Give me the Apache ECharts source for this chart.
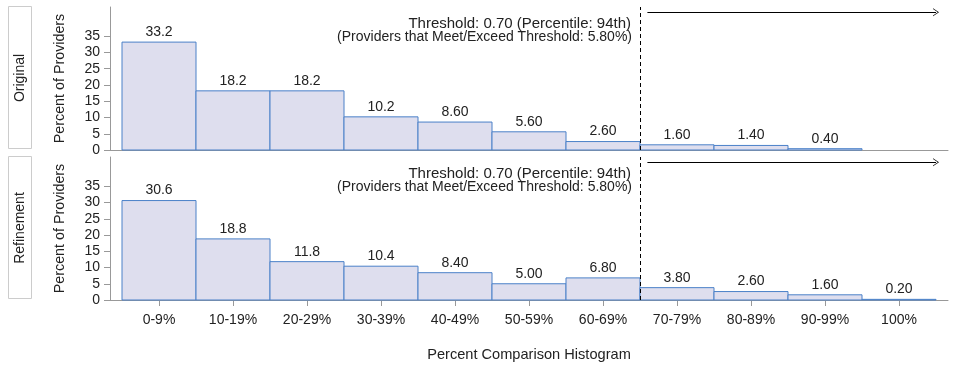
<!DOCTYPE html>
<html><head><meta charset="utf-8">
<script src="https://cdn.jsdelivr.net/npm/echarts@6/dist/echarts.min.js"></script>
<style>html,body{margin:0;padding:0;background:#fff}#c{width:956px;height:365px}</style>
</head><body><div id="c"></div>
<script>
var categories = ['0-9%','10-19%','20-29%','30-39%','40-49%','50-59%','60-69%','70-79%','80-89%','90-99%','100%'];
var originalValues = [33.2, 18.2, 18.2, 10.2, 8.6, 5.6, 2.6, 1.6, 1.4, 0.4, 0];
var refinementValues = [30.6, 18.8, 11.8, 10.4, 8.4, 5.0, 6.8, 3.8, 2.6, 1.6, 0.2];
var yTicks = [0, 5, 10, 15, 20, 25, 30, 35];
var panelNames = ['Original', 'Refinement'];
var thresholdPos = 6.5;
var thresholdText1 = 'Threshold: 0.70 (Percentile: 94th)';
var thresholdText2 = '(Providers that Meet/Exceed Threshold: 5.80%)';

var FONT = 'Liberation Sans, Arial, sans-serif';
var chart = echarts.init(document.getElementById('c'), null, {renderer: 'canvas'});
var catIdx = categories.map(function (_, i) { return i; });
var pad = 12 / 74;

function fmt(v) { return v >= 10 ? v.toFixed(1) : v.toFixed(2); }

function renderBar(params, api) {
  var i = api.value(0), v = api.value(1);
  if (!(v > 0)) return null;
  var p0 = api.coord([i - 0.5, v]);
  var p1 = api.coord([i + 0.5, 0]);
  return {
    type: 'group',
    children: [
      {type: 'rect', shape: {x: p0[0], y: p0[1], width: p1[0] - p0[0], height: p1[1] - p0[1]},
       style: {fill: '#dedeee', stroke: '#4a80c8', lineWidth: 1}},
      {type: 'text', x: (p0[0] + p1[0]) / 2, y: p0[1] - 3,
       style: {text: fmt(v), fill: '#222', font: '14px ' + FONT, textAlign: 'center', textVerticalAlign: 'bottom'}}
    ]
  };
}

var grids = [
  {left: 110, right: 8, top: 7, bottom: 215},
  {left: 110, right: 8, top: 157, bottom: 65}
];

function xAxisFor(idx) {
  var bottom = idx === 1;
  return {
    type: 'value', gridIndex: idx, min: -0.5 - pad, max: 10.5 + pad,
    axisLine: {show: true, onZero: false, lineStyle: {color: '#999', width: 1}},
    splitLine: {show: false},
    axisTick: {show: bottom, customValues: catIdx, length: 6, lineStyle: {color: '#999'}},
    axisLabel: {show: bottom, customValues: catIdx, margin: 13, color: '#222', fontSize: 14, fontFamily: FONT,
      formatter: function (v) { return categories[Math.round(v)]; }},
    name: bottom ? 'Percent Comparison Histogram' : '',
    nameLocation: 'middle', nameGap: 47,
    nameTextStyle: {color: '#222', fontSize: 14.6, fontFamily: FONT}
  };
}
function yAxisFor(idx) {
  return {
    type: 'value', gridIndex: idx, min: 0, max: 44,
    axisLine: {show: true, onZero: false, lineStyle: {color: '#999', width: 1}},
    splitLine: {show: false},
    axisTick: {show: true, customValues: yTicks, length: 6, lineStyle: {color: '#999'}},
    axisLabel: {customValues: yTicks, margin: 10, color: '#222', fontSize: 14, fontFamily: FONT},
    name: 'Percent of Providers', nameLocation: 'middle', nameGap: 43,
    nameTextStyle: {color: '#222', fontSize: 14.3, fontFamily: FONT}
  };
}

var arrowHead = 'path://M0,10 L5,0 L10,10 L9,10 L5,2 L1,10 Z';

function seriesFor(idx, vals) {
  return {
    type: 'custom', xAxisIndex: idx, yAxisIndex: idx,
    renderItem: renderBar,
    data: vals.map(function (v, i) { return [i, v]; }),
    markLine: {
      silent: true, animation: false,
      lineStyle: {color: '#000', width: 1},
      label: {show: false},
      data: [
        [{coord: [thresholdPos, 0], symbol: 'none', lineStyle: {type: [4, 3], color: '#000', width: 1}},
         {coord: [thresholdPos, 44], symbol: 'none'}],
        [{coord: [thresholdPos + 0.1, 42.4], symbol: 'none', lineStyle: {type: 'solid', color: '#000', width: 1}},
         {coord: [10.5, 42.4], symbol: arrowHead, symbolSize: [8, 6]}]
      ]
    }
  };
}

var graphics = [];
var panelTops = [7, 157];
panelNames.forEach(function (name, k) {
  var t = panelTops[k];
  graphics.push({type: 'rect', shape: {x: 8.5, y: t - 0.5, width: 23, height: 142}, style: {fill: '#fff', stroke: '#ccc', lineWidth: 1}});
  graphics.push({type: 'text', x: 20, y: t + 71, rotation: Math.PI / 2,
    style: {text: name, font: '14px ' + FONT, fill: '#222', textAlign: 'center', textVerticalAlign: 'middle'}});
  graphics.push({type: 'text', x: 631, y: t + 17,
    style: {text: thresholdText1, font: '15px ' + FONT, fill: '#222', textAlign: 'right', textVerticalAlign: 'middle'}});
  graphics.push({type: 'text', x: 632, y: t + 30,
    style: {text: thresholdText2, font: '14px ' + FONT, fill: '#222', textAlign: 'right', textVerticalAlign: 'middle'}});
});

chart.setOption({
  animation: false,
  backgroundColor: '#fff',
  grid: grids,
  xAxis: [xAxisFor(0), xAxisFor(1)],
  yAxis: [yAxisFor(0), yAxisFor(1)],
  series: [seriesFor(0, originalValues), seriesFor(1, refinementValues)],
  graphic: graphics
});
</script></body></html>
